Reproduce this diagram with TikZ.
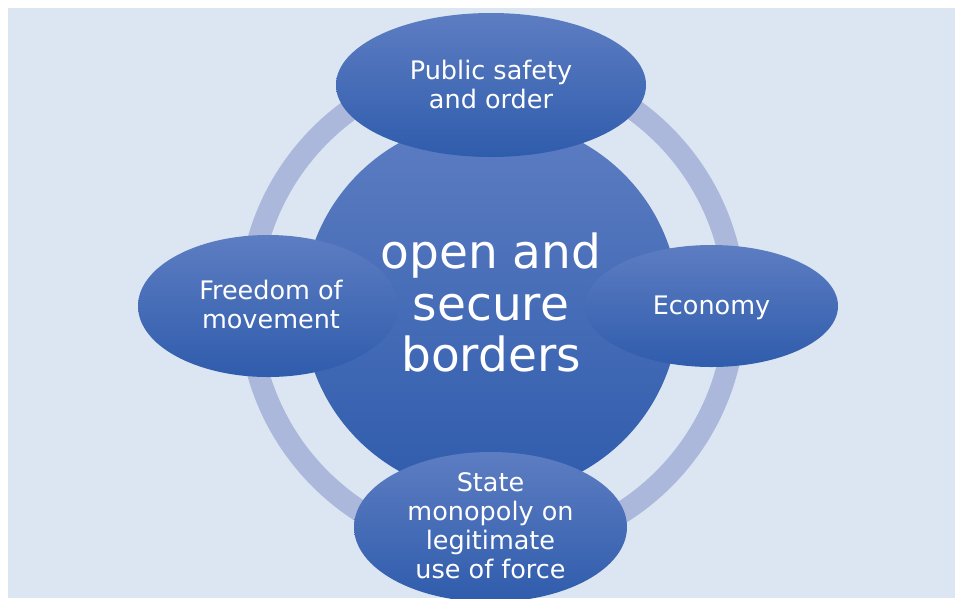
\documentclass[tikz,border=0pt]{standalone}
\usepackage{fontspec}
\setmainfont{DejaVu Sans}
\usetikzlibrary{shapes.geometric}
\definecolor{bgc}{HTML}{DCE6F2}
\definecolor{ringc}{HTML}{ABB8DB}
\definecolor{topc}{HTML}{5D7DC2}
\definecolor{botc}{HTML}{2F5CAC}
\tikzset{
  blob/.style={ellipse, inner sep=0pt, draw=none, top color=topc, bottom color=botc},
  hub/.style={circle, inner sep=0pt, draw=none, top color=topc, bottom color=botc, minimum size=376pt},
  small/.style={text=white, align=center, font=\fontsize{25.5}{29}\selectfont, inner sep=0pt},
  big/.style={text=white, align=center, font=\fontsize{47}{51.5}\selectfont, inner sep=0pt}
}
\begin{document}
\begin{tikzpicture}[x=1pt, y=-1pt]
\useasboundingbox (0,0) rectangle (955,598);
\clip (0,0) rectangle (955,598);
\fill[white] (0,0) rectangle (955,598);
\fill[bgc] (8,8) rectangle (955,598);
% hub and ring
\coordinate (rc) at (492,307);
\draw[ringc, line width=22pt] (rc) circle (243pt);
\node[hub] (hub) at (491,307) {};
% satellites
\node[blob, minimum width=310pt, minimum height=144pt] (top) at (491,85) {};
\node[blob, minimum width=260pt, minimum height=142pt] (left) at (268,306) {};
\node[blob, minimum width=253pt, minimum height=122pt] (right) at (711.5,306) {};
\node[blob, minimum width=273pt, minimum height=150pt] (bottom) at (490.5,527) {};
% texts
\node[big] (thub) at (491,302.5) {open and\\secure\\borders};
\node[small] (ttop) at (491,84) {Public safety\\and order};
\node[small] (tleft) at (271,304.6) {Freedom of\\movement};
\node[small] (tright) at (711.5,307.5) {Economy};
\node[small] (tbottom) at (490.5,526) {State\\monopoly on\\legitimate\\use of force};
\end{tikzpicture}
\end{document}
